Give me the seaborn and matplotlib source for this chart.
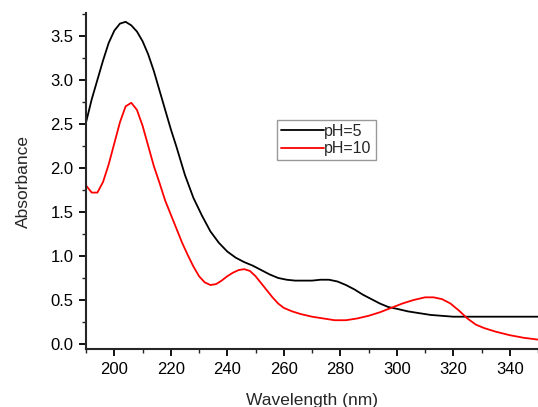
import numpy as np
import pandas as pd
import seaborn as sns
import matplotlib.pyplot as plt
from matplotlib.ticker import MultipleLocator

# Values
wl_ph5 = [190, 192, 194, 196, 198, 200, 202, 204, 206, 208, 210, 212, 214,
          216, 218, 220, 222, 225, 228, 231, 234, 237, 240, 243, 246, 249,
          252, 255, 258, 261, 264, 267, 270, 273, 276, 279, 282, 285, 288,
          291, 294, 297, 300, 304, 308, 312, 316, 320, 325, 330, 340, 350]
abs_ph5 = [2.52, 2.78, 3.00, 3.22, 3.42, 3.56, 3.64, 3.66, 3.62, 3.55, 3.44,
           3.29, 3.10, 2.88, 2.66, 2.44, 2.24, 1.92, 1.66, 1.46, 1.28, 1.15,
           1.05, 0.98, 0.93, 0.89, 0.84, 0.79, 0.75, 0.73, 0.72, 0.72, 0.72,
           0.73, 0.73, 0.71, 0.67, 0.62, 0.56, 0.51, 0.46, 0.42, 0.40, 0.37,
           0.35, 0.33, 0.32, 0.31, 0.31, 0.31, 0.31, 0.31]

wl_ph10 = [190, 192, 194, 196, 198, 200, 202, 204, 206, 208, 210, 212, 214,
           216, 218, 220, 222, 224, 226, 228, 230, 232, 234, 236, 238, 240,
           242, 244, 246, 248, 250, 252, 254, 256, 258, 260, 263, 266, 270,
           274, 278, 282, 286, 290, 294, 298, 302, 306, 310, 313, 316, 319,
           322, 325, 328, 331, 335, 340, 345, 350]
abs_ph10 = [1.80, 1.72, 1.72, 1.84, 2.04, 2.28, 2.52, 2.70, 2.74, 2.66, 2.48,
            2.25, 2.02, 1.83, 1.63, 1.47, 1.31, 1.15, 1.01, 0.88, 0.77, 0.70,
            0.67, 0.68, 0.72, 0.77, 0.81, 0.84, 0.85, 0.83, 0.77, 0.69, 0.61,
            0.53, 0.46, 0.41, 0.37, 0.34, 0.31, 0.29, 0.27, 0.27, 0.29, 0.32,
            0.36, 0.41, 0.46, 0.50, 0.53, 0.53, 0.51, 0.46, 0.38, 0.29, 0.22,
            0.18, 0.14, 0.10, 0.07, 0.05]

df = pd.concat([
    pd.DataFrame({"Wavelength": wl_ph5, "Absorbance": abs_ph5, "sample": "pH=5"}),
    pd.DataFrame({"Wavelength": wl_ph10, "Absorbance": abs_ph10, "sample": "pH=10"}),
])

sns.set_style("ticks")
plt.rcParams["font.family"] = ["Liberation Sans", "DejaVu Sans"]

fig = plt.figure(figsize=(5.38, 4.07), dpi=100)
ax = fig.add_axes([0.160, 0.1425, 0.84, 0.8255])

sns.lineplot(data=df, x="Wavelength", y="Absorbance", hue="sample",
             palette={"pH=5": "black", "pH=10": "red"}, linewidth=1.3,
             sort=False, ax=ax)

ax.set_xlim(190, 350)
ax.set_ylim(-0.057, 3.76)
ax.xaxis.set_major_locator(MultipleLocator(20))
ax.xaxis.set_minor_locator(MultipleLocator(10))
ax.yaxis.set_major_locator(MultipleLocator(0.5))
ax.yaxis.set_minor_locator(MultipleLocator(0.25))
ax.tick_params(which="major", direction="out", length=5, width=1.3,
               labelsize=12, colors="black", pad=4)
ax.tick_params(which="minor", direction="out", length=3, width=1.0)

sns.despine(ax=ax)
for s in ["left", "bottom"]:
    ax.spines[s].set_linewidth(1.5)

ax.set_xlabel("Wavelength (nm)", fontsize=12.5, labelpad=12)
ax.set_ylabel("Absorbance", fontsize=12.5, labelpad=14)

leg = ax.legend(title=None, loc="upper left", bbox_to_anchor=(0.423, 0.682),
                fontsize=11.5, frameon=True, fancybox=False, handlelength=2.7,
                handletextpad=0.0, borderpad=0.25, labelspacing=0.15,
                borderaxespad=0)
leg.get_frame().set_edgecolor("gray")
leg.get_frame().set_linewidth(1.0)

fig.savefig("out.png", dpi=100)
